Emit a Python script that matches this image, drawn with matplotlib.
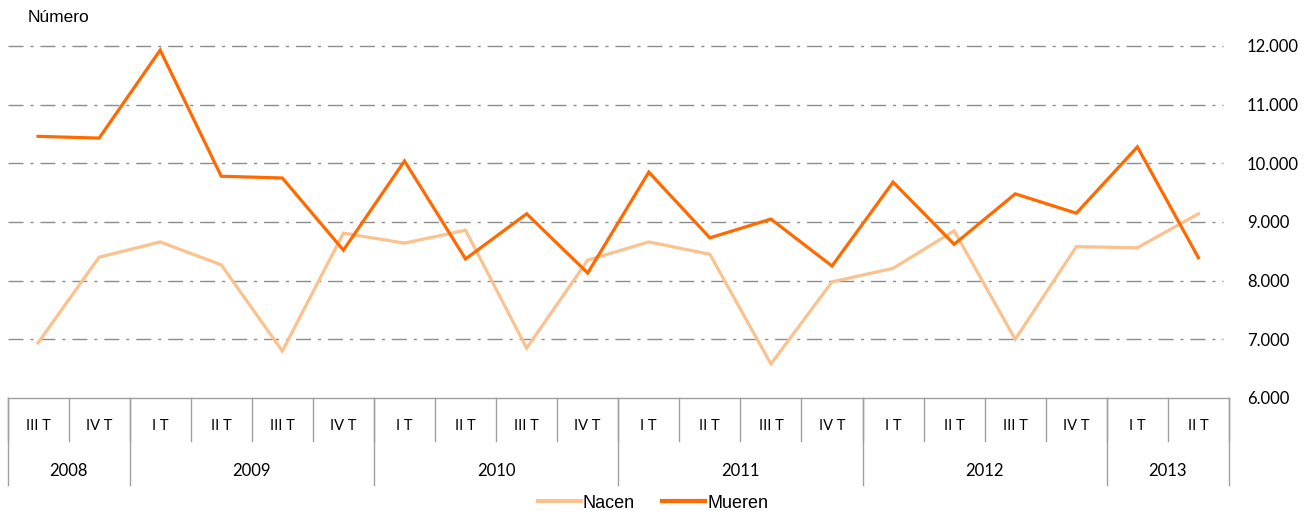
import numpy as np
import matplotlib
matplotlib.use("Agg")
import matplotlib.pyplot as plt
from matplotlib.lines import Line2D

quarters = ["III T", "IV T",
            "I T", "II T", "III T", "IV T",
            "I T", "II T", "III T", "IV T",
            "I T", "II T", "III T", "IV T",
            "I T", "II T", "III T", "IV T",
            "I T", "II T"]
years = ["2008", "2009", "2010", "2011", "2012", "2013"]
year_len = [2, 4, 4, 4, 4, 2]

nacen = [6940, 8400, 8660, 8270, 6800, 8810, 8640, 8860, 6850, 8350,
         8660, 8450, 6580, 7980, 8210, 8850, 7000, 8580, 8560, 9140]
mueren = [10460, 10430, 11930, 9780, 9750, 8520, 10040, 8370, 9140, 8130,
          9850, 8730, 9050, 8250, 9680, 8620, 9480, 9150, 10280, 8390]

c_nacen = "#FAC28F"
c_mueren = "#FF6A00"
grid_c = "#8C8C8C"
W, H = 1307, 516

fig = plt.figure(figsize=(W / 100, H / 100), dpi=100)
ax = fig.add_axes([7.5 / W, 1 - 398 / H, (1229 - 7.5) / W, (398 - 46) / H])

x = np.arange(len(quarters))
ax.plot(x, nacen, color=c_nacen, lw=2.3, solid_joinstyle="miter", zorder=3)
ax.plot(x, mueren, color=c_mueren, lw=2.3, solid_joinstyle="miter", zorder=4)

ax.set_xlim(-0.5, len(quarters) - 0.5)
ax.set_ylim(6000, 12000)
yt = np.arange(6000, 12001, 1000)
ax.set_yticks(yt)
ax.set_yticklabels([f"{v:,}".replace(",", ".") for v in yt],
                   fontfamily="Lato", fontsize=12)
ax.yaxis.tick_right()
ax.tick_params(axis="y", length=0, pad=13)
ax.set_xticks([])
for s in ["top", "left", "right", "bottom"]:
    ax.spines[s].set_visible(False)

for v in yt[1:]:
    ax.plot([-0.5, 19.4], [v, v], color=grid_c, lw=1.0,
            linestyle=(0, (10.8, 5, 2.2, 5)), zorder=1, clip_on=False)

# category table under the axis
tr = ax.get_xaxis_transform()
def ypx(p):
    return (398 - p) / (398 - 46)

lc = "#A0A0A0"
ax.plot([-0.5, 19.5], [0, 0], color=lc, lw=1.0, transform=tr, clip_on=False)
for i in range(len(quarters) + 1):
    ax.plot([i - 0.5, i - 0.5], [0, ypx(441)], color=lc, lw=1.0,
            transform=tr, clip_on=False)
for i, q in enumerate(quarters):
    ax.text(i, ypx(426), q, transform=tr, ha="center", va="center",
            fontfamily="Lato", fontsize=10.5)
start = 0
for yr, n in zip(years, year_len):
    ax.plot([start - 0.5, start - 0.5], [0, ypx(485)], color=lc, lw=1.0,
            transform=tr, clip_on=False)
    ax.text(start + n / 2 - 0.5, ypx(471), yr, transform=tr, ha="center",
            va="center", fontfamily="Lato", fontsize=12)
    start += n
ax.plot([start - 0.5, start - 0.5], [0, ypx(485)], color=lc, lw=1.0,
        transform=tr, clip_on=False)

fig.text(28 / W, 1 - 17 / H, "Número", fontfamily="Liberation Sans",
         fontsize=12.5, ha="left", va="center")

handles = [Line2D([], [], color=c_nacen, lw=3), Line2D([], [], color=c_mueren, lw=3)]
fig.legend(handles, ["Nacen", "Mueren"], loc="center", ncol=2,
           bbox_to_anchor=(653 / W, 1 - 503 / H), frameon=False,
           prop={"family": "Liberation Sans", "size": 13},
           handlelength=2.4, handletextpad=0.1, columnspacing=1.5)

fig.savefig("out.png", dpi=100)
